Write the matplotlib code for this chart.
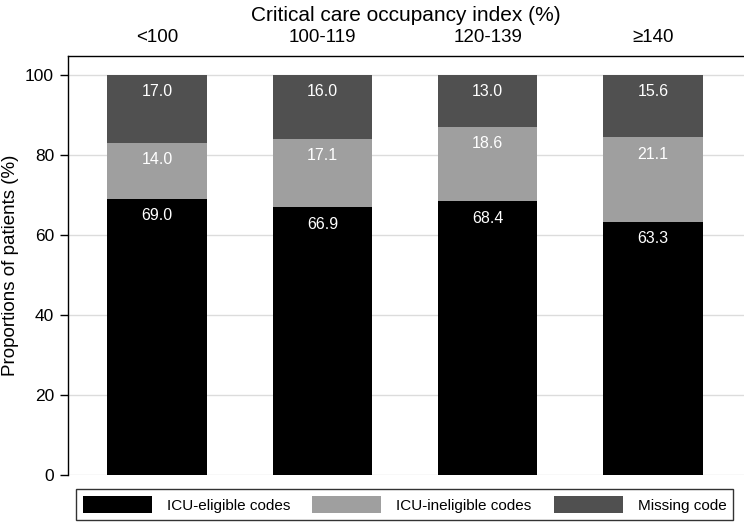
import numpy as np
import matplotlib.pyplot as plt
from matplotlib import font_manager
from matplotlib.patches import Patch

plt.rcParams['font.family'] = ['Liberation Sans', 'DejaVu Sans']

categorias = ["<100", "100-119", "120-139", "≥140"]
eligible = [69.0, 66.9, 68.4, 63.3]
ineligible = [14.0, 17.1, 18.6, 21.1]
missing = [17.0, 16.0, 13.0, 15.6]

series = ["ICU-eligible codes", "ICU-ineligible codes", "Missing code"]
colores = ["#000000", "#9f9f9f", "#505050"]

# la leyenda usa una letra estrecha si existe
nombres = {f.name for f in font_manager.fontManager.ttflist}
if "Liberation Sans Narrow" in nombres:
    fuente_leyenda = {"family": "Liberation Sans Narrow", "size": 13.5}
else:
    fuente_leyenda = {"family": "Liberation Sans", "size": 11}

fig = plt.figure(figsize=(7.44, 5.22), dpi=100)
ax = fig.add_axes([68 / 744, 1 - 475 / 522, 1 - 68 / 744, (475 - 55.7) / 522])

x = np.arange(len(categorias))
ancho = 0.6
base = np.zeros(len(categorias))
for valores, color in zip([eligible, ineligible, missing], colores):
    ax.bar(x, valores, ancho, bottom=base, color=color, zorder=3)
    # etiqueta blanca cerca del borde superior de cada tramo
    for xi, b0, v in zip(x, base, valores):
        ax.annotate(f"{v:.1f}", (xi, b0 + v), xytext=(0, -17), textcoords="offset pixels",
                    ha="center", va="center", color="white", fontsize=11.5, zorder=4)
    base = base + np.array(valores)

ax.set_xlim(-0.538, 3.55)
ax.set_ylim(0, 104.8)
ax.set_yticks([0, 20, 40, 60, 80, 100])
ax.yaxis.grid(True, color="#dcdcdc", linewidth=1, zorder=0)
ax.tick_params(axis="y", labelsize=12.5, length=6, width=1, pad=4)
ax.set_ylabel("Proportions of patients (%)", fontsize=13.5)
ax.yaxis.set_label_coords(-0.072, 0.5)

ax.xaxis.tick_top()
ax.xaxis.set_label_position("top")
ax.set_xticks(x)
ax.set_xticklabels(categorias, fontsize=13.5)
ax.tick_params(axis="x", length=0, pad=7)
ax.set_xlabel("Critical care occupancy index (%)", fontsize=15, labelpad=6)

ax.spines["right"].set_visible(False)
ax.spines["bottom"].set_visible(False)
ax.spines["left"].set_linewidth(1)
ax.spines["top"].set_linewidth(1)

handles = [Patch(facecolor=c, edgecolor="none") for c in colores]
fs = fuente_leyenda["size"]
px = fs * 100 / 72
leg = fig.legend(handles, series, loc="lower left", ncol=3,
                 bbox_to_anchor=(76 / 744, 2 / 522),
                 prop=fuente_leyenda, frameon=True, fancybox=False, edgecolor="black",
                 handlelength=69 / px, handleheight=20 / px, borderaxespad=0,
                 borderpad=7 / px, handletextpad=15 / px, columnspacing=22 / px)
leg.get_frame().set_linewidth(1)

fig.savefig("out.png", dpi=100)
